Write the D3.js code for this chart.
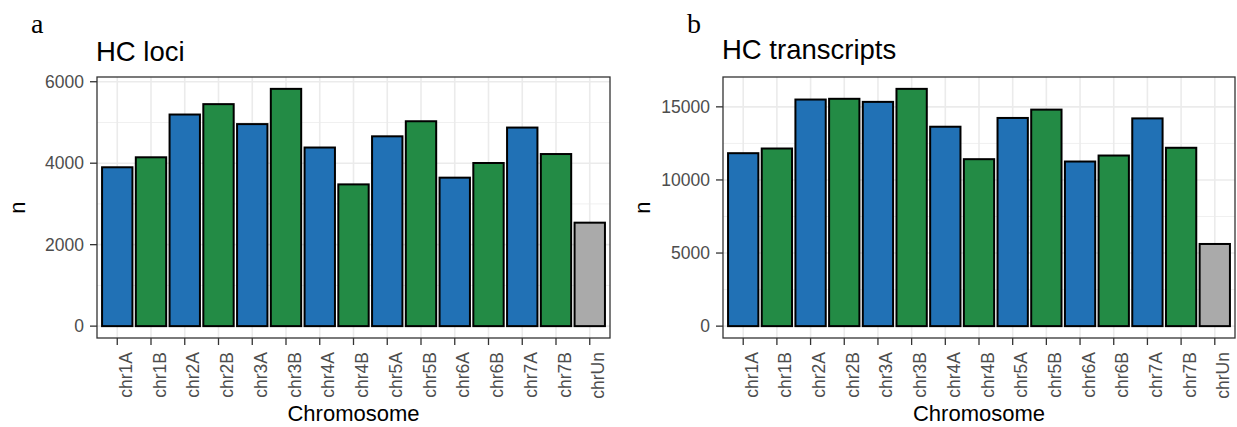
<!DOCTYPE html>
<html>
<head>
<meta charset="utf-8">
<script src="https://cdn.jsdelivr.net/npm/d3@7"></script>
<style>
  body { margin: 0; background: #fff; }
  svg text { font-family: "Liberation Sans", Arial, sans-serif; }
</style>
</head>
<body>
<div class="chart"></div>
<script>
// data
const chromosomes = ["chr1A","chr1B","chr2A","chr2B","chr3A","chr3B","chr4A","chr4B",
                     "chr5A","chr5B","chr6A","chr6B","chr7A","chr7B","chrUn"];
const hcLoci = [3900, 4145, 5195, 5450, 4960, 5825, 4385, 3480, 4660, 5030, 3645, 4005, 4875, 4225, 2540];
const hcTranscripts = [11830, 12150, 15500, 15550, 15340, 16230, 13640, 11420, 14240, 14810, 11260, 11670, 14210, 12200, 5620];
const lociTicks = [0, 2000, 4000, 6000];
const lociMinor = [1000, 3000, 5000];
const transcriptTicks = [0, 5000, 10000, 15000];
const transcriptMinor = [2500, 7500, 12500];

const subColor = {A: "#2171b5", B: "#238b45", n: "#aaaaaa"};

const svg = d3.select(".chart").append("svg")
  .attr("width", 1237)
  .attr("height", 427);

function drawPanel(opts){
  let left = opts.left, right = opts.right, top = 77, bottom = 338;
  let g = svg.append("g");

  let x = d3.scaleBand()
            .domain(chromosomes)
            .range([left, right])
            .paddingInner(0.1)
            .paddingOuter(0.15);
  let maxV = d3.max(opts.values);
  let y = d3.scaleLinear()
            .domain([-0.05 * maxV, 1.05 * maxV])
            .range([bottom, top]);

  // grid
  g.selectAll(".minor").data(opts.minor).enter().append("line")
   .attr("x1", left).attr("x2", right)
   .attr("y1", d => y(d)).attr("y2", d => y(d))
   .attr("stroke", "#f0f0f0").attr("stroke-width", 1);
  g.selectAll(".majorY").data(opts.ticks).enter().append("line")
   .attr("x1", left).attr("x2", right)
   .attr("y1", d => y(d)).attr("y2", d => y(d))
   .attr("stroke", "#ebebeb").attr("stroke-width", 1.6);
  g.selectAll(".majorX").data(chromosomes).enter().append("line")
   .attr("x1", d => x(d) + x.bandwidth() / 2).attr("x2", d => x(d) + x.bandwidth() / 2)
   .attr("y1", top).attr("y2", bottom)
   .attr("stroke", "#ebebeb").attr("stroke-width", 1.6);

  // bars
  g.selectAll(".bar").data(opts.values).enter().append("rect")
   .attr("x", (d, i) => x(chromosomes[i]))
   .attr("width", x.bandwidth())
   .attr("y", d => y(d))
   .attr("height", d => y(0) - y(d))
   .attr("fill", (d, i) => subColor[chromosomes[i].slice(-1)])
   .attr("stroke", "#000")
   .attr("stroke-width", 2);

  // panel border
  g.append("rect")
   .attr("x", left).attr("y", top)
   .attr("width", right - left).attr("height", bottom - top)
   .attr("fill", "none").attr("stroke", "#333333").attr("stroke-width", 1.3);

  // y axis
  g.selectAll(".ytick").data(opts.ticks).enter().append("line")
   .attr("x1", left - 7).attr("x2", left)
   .attr("y1", d => y(d)).attr("y2", d => y(d))
   .attr("stroke", "#333333").attr("stroke-width", 1.3);
  g.selectAll(".ylab").data(opts.ticks).enter().append("text")
   .attr("x", left - 13)
   .attr("y", d => y(d))
   .attr("dy", "0.35em")
   .attr("text-anchor", "end")
   .attr("font-size", 17.5)
   .attr("fill", "#4d4d4d")
   .text(d => d);

  // x axis
  g.selectAll(".xtick").data(chromosomes).enter().append("line")
   .attr("x1", d => x(d) + x.bandwidth() / 2).attr("x2", d => x(d) + x.bandwidth() / 2)
   .attr("y1", bottom).attr("y2", bottom + 7)
   .attr("stroke", "#333333").attr("stroke-width", 1.3);
  g.selectAll(".xlab").data(chromosomes).enter().append("text")
   .attr("transform", d => "translate(" + (x(d) + x.bandwidth() / 2 + 14.5) + "," + (bottom + 14) + ")rotate(-90)")
   .attr("text-anchor", "end")
   .attr("font-size", 17.5)
   .attr("fill", "#4d4d4d")
   .text(d => d);

  // titles
  g.append("text")
   .attr("x", (left + right) / 2).attr("y", 421)
   .attr("text-anchor", "middle")
   .attr("font-size", 22)
   .text("Chromosome");
  g.append("text")
   .attr("transform", "translate(" + opts.nX + "," + ((top + bottom) / 2) + ")rotate(-90)")
   .attr("text-anchor", "middle")
   .attr("font-size", 22)
   .text("n");
  g.append("text")
   .attr("x", left - 1).attr("y", opts.titleY)
   .attr("font-size", 27.5)
   .text(opts.title);
  g.append("text")
   .attr("x", opts.tagX).attr("y", 33)
   .attr("font-size", 28)
   .style("font-family", "'Liberation Serif', 'Times New Roman', serif")
   .text(opts.tag);
}

drawPanel({left: 97, right: 610, values: hcLoci, ticks: lociTicks, minor: lociMinor,
           title: "HC loci", titleY: 61, tag: "a", tagX: 31, nX: 25});
drawPanel({left: 723, right: 1235, values: hcTranscripts, ticks: transcriptTicks, minor: transcriptMinor,
           title: "HC transcripts", titleY: 59, tag: "b", tagX: 687, nX: 650});
</script>
</body>
</html>
